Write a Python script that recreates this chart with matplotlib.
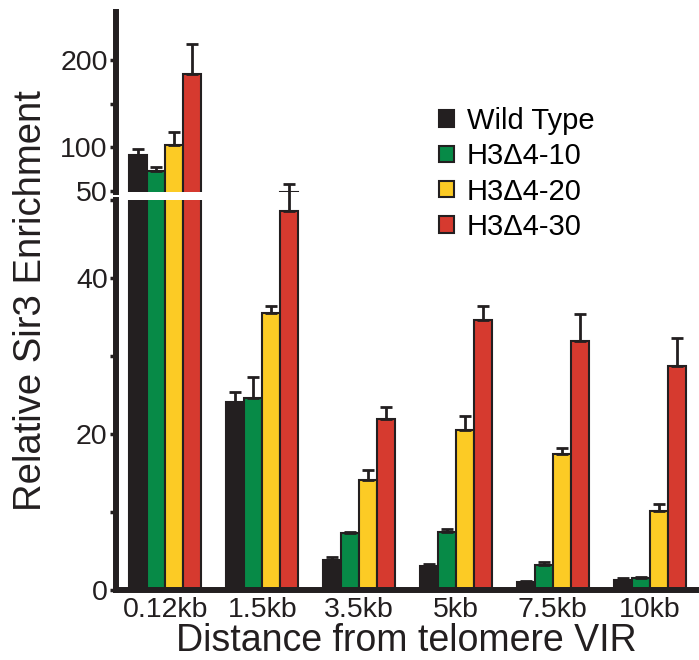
import numpy as np
import matplotlib
matplotlib.use("Agg")
import matplotlib.pyplot as plt

plt.rcParams['font.family'] = ['Liberation Sans', 'DejaVu Sans']

categories = ['0.12kb', '1.5kb', '3.5kb', '5kb', '7.5kb', '10kb']
series_names = ['Wild Type', 'H3Δ4-10', 'H3Δ4-20', 'H3Δ4-30']
colors = ['#231f20', '#078a47', '#fccb25', '#d63a2f']

wild_type = [91, 24.2, 3.9, 3.1, 1.0, 1.3]
h3_4_10 = [72, 24.7, 7.3, 7.4, 3.2, 1.5]
h3_4_20 = [102, 35.6, 14.1, 20.5, 17.4, 10.1]
h3_4_30 = [184, 48.6, 21.9, 34.7, 32.0, 28.8]

wild_type_err = [7, 1.2, 0.3, 0.2, 0.15, 0.2]
h3_4_10_err = [5, 2.6, 0.15, 0.4, 0.4, 0.2]
h3_4_20_err = [15, 0.9, 1.3, 1.8, 0.8, 0.9]
h3_4_30_err = [34, 3.5, 1.6, 1.8, 3.4, 3.5]

values = [wild_type, h3_4_10, h3_4_20, h3_4_30]
errors = [wild_type_err, h3_4_10_err, h3_4_20_err, h3_4_30_err]

fig = plt.figure(figsize=(6.99, 6.60), dpi=100)
ax_top = fig.add_axes([0.166, 0.7085, 0.83, 0.273])
ax_bot = fig.add_axes([0.166, 0.106, 0.83, 0.5914])

x = np.arange(len(categories))
w = 0.186
offsets = (np.arange(4) - 1.5) * w

handles = []
for i in range(4):
    v = np.array(values[i])
    e = np.array(errors[i])
    ax_top.bar(x + offsets[i], v, w, color=colors[i], edgecolor='#231f20', linewidth=1.5)
    b = ax_bot.bar(x + offsets[i], v, w, color=colors[i], edgecolor='#231f20',
                   linewidth=1.5, label=series_names[i])
    handles.append(b)
    # error bars: first group on top axes, the rest on the bottom axes
    ax_top.errorbar(x[:1] + offsets[i], v[:1], yerr=[np.zeros(1), e[:1]],
                    fmt='none', ecolor='#231f20', elinewidth=2, capsize=4, capthick=2)
    ax_bot.errorbar(x[1:] + offsets[i], v[1:], yerr=[np.zeros(5), e[1:]],
                    fmt='none', ecolor='#231f20', elinewidth=2, capsize=4, capthick=2,
                    clip_on=False)

ax_top.set_ylim(48, 255)
ax_bot.set_ylim(0, 50.1)
for ax in (ax_top, ax_bot):
    ax.set_xlim(-0.51, 5.48)
    ax.spines['right'].set_visible(False)
    ax.spines['left'].set_linewidth(4.3)
    ax.spines['bottom'].set_linewidth(4.3)
    ax.spines['left'].set_color('#231f20')
    ax.spines['bottom'].set_color('#231f20')
    ax.tick_params(axis='y', which='both', direction='out', length=4, width=2.5,
                   labelsize=20.5, pad=2, colors='#231f20')

ax_top.spines['top'].set_visible(False)
ax_top.spines['bottom'].set_visible(False)
ax_top.set_xticks([])
ax_top.set_yticks([50, 100, 150, 200])
ax_top.set_yticklabels(['50', '100', '', '200'])

ax_bot.spines['top'].set_visible(False)
ax_bot.set_yticks([0, 10, 20, 30, 40, 50])
ax_bot.set_yticklabels(['0', '', '20', '', '40', ''])
ax_bot.set_xticks(x)
ax_bot.set_xticklabels(categories, fontsize=20.5, color='#231f20')
ax_bot.tick_params(axis='x', length=0, pad=5)
ax_bot.set_xlabel('Distance from telomere VIR', fontsize=27, labelpad=0, color='#231f20')

fig.text(0.045, 0.545, 'Relative Sir3 Enrichment', rotation=90, fontsize=27.5,
         ha='center', va='center', color='#231f20')

fig.legend(handles=handles, loc='upper left', bbox_to_anchor=(0.628, 0.838),
           frameon=False, fontsize=21, handlelength=0.5, handleheight=0.5,
           handletextpad=0.45, labelspacing=0.25, borderpad=0, borderaxespad=0)

fig.savefig('out.png', dpi=100)
